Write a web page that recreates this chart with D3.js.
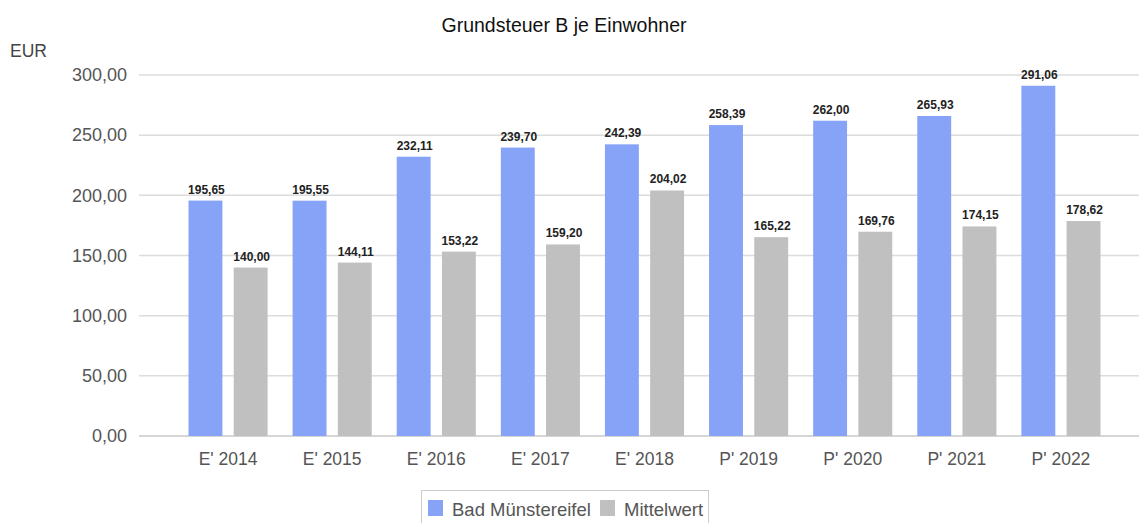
<!DOCTYPE html>
<html>
<head>
<meta charset="utf-8">
<script src="https://cdn.jsdelivr.net/npm/d3@7"></script>
<style>
  body { margin: 0; background: #fff; }
  svg { display: block; font-family: "Liberation Sans", Arial, sans-serif; }
</style>
</head>
<body>
<svg id="chart" width="1139" height="523"></svg>
<script>
const categories = ["E' 2014", "E' 2015", "E' 2016", "E' 2017", "E' 2018", "P' 2019", "P' 2020", "P' 2021", "P' 2022"];
const seriesNames = ["Bad Münstereifel", "Mittelwert"];
const badMuenstereifel = [195.65, 195.55, 232.11, 239.70, 242.39, 258.39, 262.00, 265.93, 291.06];
const mittelwert = [140.00, 144.11, 153.22, 159.20, 204.02, 165.22, 169.76, 174.15, 178.62];
const yTicks = [0, 50, 100, 150, 200, 250, 300];
const colors = ["#87a3f7", "#c0c0c0"];

var svg = d3.select("#chart"),
	width = 1139,
	height = 523;

var fmt = function (v) { return d3.format(".2f")(v).replace(".", ","); };

var x = d3.scaleBand()
	.domain(categories)
	.range([176, 1113]);

var xInner = d3.scaleBand()
	.domain(seriesNames)
	.range([12.5, x.bandwidth() - 12.5])
	.paddingInner(0.25);

var y = d3.scaleLinear()
	.domain([0, 300])
	.range([436, 75]);

// title
svg.append("text")
	.attr("x", 564)
	.attr("y", 32)
	.attr("text-anchor", "middle")
	.attr("font-size", 19.5)
	.attr("fill", "#111")
	.text("Grundsteuer B je Einwohner");

svg.append("text")
	.attr("x", 10)
	.attr("y", 57)
	.attr("font-size", 17.5)
	.attr("fill", "#444")
	.text("EUR");

// gridlines
svg.append("g")
	.selectAll("line")
	.data(yTicks)
	.enter().append("line")
	.attr("x1", 139)
	.attr("x2", width)
	.attr("y1", function (d) { return y(d); })
	.attr("y2", function (d) { return y(d); })
	.attr("stroke", function (d) { return d === 0 ? "#c8c8c8" : "#dcdcdc"; })
	.attr("stroke-width", 1.5);

// y axis labels
var yAxis = d3.axisLeft(y).tickValues(yTicks).tickFormat(fmt).tickSize(0).tickPadding(0);
var yg = svg.append("g")
	.attr("transform", "translate(127,0)")
	.call(yAxis);
yg.select(".domain").remove();
yg.selectAll("text")
	.attr("font-size", 18)
	.attr("font-family", "Liberation Sans, Arial, sans-serif")
	.attr("fill", "#555");

// x axis labels
var xAxis = d3.axisBottom(x).tickSize(0).tickPadding(0);
var xg = svg.append("g")
	.attr("transform", "translate(0,453)")
	.call(xAxis);
xg.select(".domain").remove();
xg.selectAll("text")
	.attr("font-size", 17.5)
	.attr("font-family", "Liberation Sans, Arial, sans-serif")
	.attr("fill", "#555");

// bars
var rows = categories.map(function (c, i) {
	return { cat: c, values: [
		{ key: seriesNames[0], value: badMuenstereifel[i], color: colors[0] },
		{ key: seriesNames[1], value: mittelwert[i], color: colors[1] }
	] };
});

var group = svg.append("g")
	.selectAll("g")
	.data(rows)
	.enter().append("g")
	.attr("transform", function (d) { return "translate(" + x(d.cat) + ",0)"; });

group.selectAll("rect")
	.data(function (d) { return d.values; })
	.enter().append("rect")
	.attr("x", function (d) { return xInner(d.key); })
	.attr("width", xInner.bandwidth())
	.attr("y", function (d) { return y(d.value); })
	.attr("height", function (d) { return y(0) - y(d.value); })
	.attr("fill", function (d) { return d.color; });

group.selectAll("text")
	.data(function (d) { return d.values; })
	.enter().append("text")
	.attr("x", function (d) { return xInner(d.key) + xInner.bandwidth() / 2 + 1; })
	.attr("y", function (d) { return y(d.value) - 7; })
	.attr("text-anchor", "middle")
	.attr("font-size", 12)
	.attr("font-weight", "bold")
	.attr("fill", "#222")
	.text(function (d) { return fmt(d.value); });

// legend
var legend = svg.append("g");
legend.append("rect")
	.attr("x", 421.5)
	.attr("y", 490.5)
	.attr("width", 287)
	.attr("height", 40)
	.attr("fill", "#fff")
	.attr("stroke", "#ccc");

var legendX = [428, 600];
seriesNames.forEach(function (name, i) {
	legend.append("rect")
		.attr("x", legendX[i])
		.attr("y", 500)
		.attr("width", 15)
		.attr("height", 16)
		.attr("fill", colors[i]);
	legend.append("text")
		.attr("x", legendX[i] + 24)
		.attr("y", 516)
		.attr("font-size", 18.5)
		.attr("fill", "#555")
		.text(name);
});
</script>
</body>
</html>
